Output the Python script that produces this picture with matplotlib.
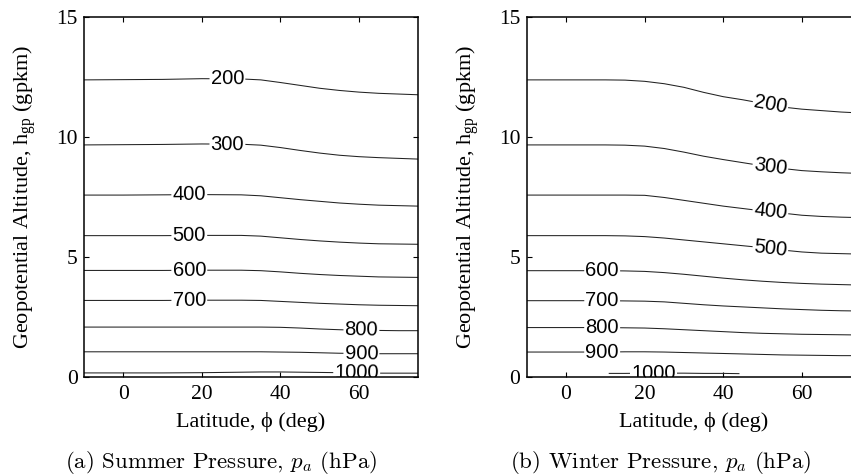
import numpy as np
import matplotlib
matplotlib.use("Agg")
import matplotlib.pyplot as plt

plt.rcParams["font.family"] = ["Liberation Serif", "DejaVu Serif"]
plt.rcParams["mathtext.fontset"] = "custom"
plt.rcParams["mathtext.rm"] = "Liberation Serif"
plt.rcParams["mathtext.it"] = "Liberation Serif:italic"

# Pressure levels (hPa) and their geopotential altitude (gpkm) vs latitude
levels = [200, 300, 400, 500, 600, 700, 800, 900, 1000]

summer_lat = [-10, 0, 10, 20, 30, 35, 40, 45, 50, 55, 60, 65, 70, 75]
summer_h = [
    [12.38, 12.39, 12.40, 12.43, 12.42, 12.38, 12.27, 12.15, 12.03, 11.94, 11.87, 11.82, 11.79, 11.76],
    [9.67, 9.68, 9.69, 9.71, 9.70, 9.66, 9.56, 9.44, 9.33, 9.24, 9.18, 9.14, 9.11, 9.08],
    [7.58, 7.58, 7.59, 7.60, 7.59, 7.55, 7.47, 7.39, 7.32, 7.25, 7.20, 7.16, 7.14, 7.12],
    [5.89, 5.89, 5.89, 5.90, 5.90, 5.87, 5.80, 5.73, 5.67, 5.62, 5.58, 5.55, 5.54, 5.53],
    [4.44, 4.44, 4.44, 4.45, 4.45, 4.43, 4.38, 4.32, 4.27, 4.23, 4.20, 4.17, 4.16, 4.15],
    [3.19, 3.19, 3.19, 3.20, 3.20, 3.19, 3.15, 3.11, 3.07, 3.04, 3.01, 2.99, 2.98, 2.97],
    [2.08, 2.08, 2.08, 2.08, 2.08, 2.08, 2.07, 2.04, 2.00, 1.97, 1.95, 1.94, 1.93, 1.93],
    [1.05, 1.05, 1.05, 1.05, 1.05, 1.05, 1.04, 1.03, 1.01, 0.99, 0.98, 0.97, 0.97, 0.97],
    [0.17, 0.17, 0.17, 0.18, 0.20, 0.21, 0.21, 0.20, 0.19, 0.18, 0.17, 0.16, 0.16, 0.16],
]
summer_label_lat = [26.5, 26.5, 16.8, 16.8, 16.8, 16.8, 60.6, 60.6, 59.4]

winter_lat = [-10, 0, 10, 15, 20, 25, 30, 35, 40, 45, 50, 55, 60, 65, 70, 75]
winter_h = [
    [12.38, 12.38, 12.38, 12.37, 12.32, 12.22, 12.07, 11.86, 11.68, 11.55, 11.40, 11.25, 11.16, 11.10, 11.04, 11.00],
    [9.67, 9.67, 9.67, 9.66, 9.62, 9.52, 9.37, 9.20, 9.06, 8.93, 8.80, 8.69, 8.60, 8.55, 8.51, 8.48],
    [7.58, 7.58, 7.58, 7.58, 7.57, 7.48, 7.36, 7.24, 7.12, 7.02, 6.92, 6.83, 6.74, 6.69, 6.66, 6.64],
    [5.89, 5.89, 5.89, 5.88, 5.85, 5.79, 5.71, 5.63, 5.55, 5.47, 5.39, 5.29, 5.21, 5.16, 5.14, 5.12],
    [4.43, 4.43, 4.43, 4.42, 4.40, 4.35, 4.28, 4.20, 4.12, 4.05, 3.99, 3.94, 3.90, 3.87, 3.85, 3.83],
    [3.18, 3.18, 3.18, 3.17, 3.16, 3.13, 3.07, 3.01, 2.96, 2.92, 2.88, 2.84, 2.81, 2.78, 2.76, 2.75],
    [2.06, 2.06, 2.06, 2.05, 2.04, 2.01, 1.97, 1.93, 1.89, 1.85, 1.82, 1.80, 1.78, 1.77, 1.76, 1.75],
    [1.04, 1.04, 1.04, 1.05, 1.05, 1.04, 1.02, 1.00, 0.98, 0.96, 0.94, 0.92, 0.91, 0.90, 0.89, 0.89],
]
# the 1000 hPa surface only rises above ground over part of the winter range
winter_lat_1000 = [11, 15, 20, 25, 30, 35, 40, 44]
winter_h_1000 = [0.15, 0.15, 0.16, 0.16, 0.16, 0.15, 0.15, 0.14]
winter_label_lat = [52, 52, 52, 52, 9.2, 9.2, 9.2, 9.2, 22.2]

xticks = [0, 20, 40, 60]
yticks = [0, 5, 10, 15]

W, H = 851, 475
fig = plt.figure(figsize=(W / 100, H / 100), dpi=100)


def px_axes(x0, x1, y0, y1):
    return fig.add_axes([x0 / W, 1 - y1 / H, (x1 - x0) / W, (y1 - y0) / H])


def draw_panel(ax, curves, label_lats, caption, caption_x):
    ax.set_xlim(-10, 75)
    ax.set_ylim(0, 15)
    ax.set_xticks(xticks)
    ax.set_yticks(yticks)
    ax.tick_params(direction="in", length=3.5, width=0.8, top=True, right=True,
                   labelsize=15.5)
    ax.tick_params(axis="x", pad=6)
    ax.tick_params(axis="y", pad=4.5)
    for s in ax.spines.values():
        s.set_linewidth(1.1)

    for (xs, ys, lev), llat in zip(curves, label_lats):
        ax.plot(xs, ys, color="#222222", lw=0.75, zorder=2)
        ly = float(np.interp(llat, xs, ys))
        # label angle follows the local slope of the line in screen space
        p0 = ax.transData.transform((llat - 2.0, np.interp(llat - 2.0, xs, ys)))
        p1 = ax.transData.transform((llat + 2.0, np.interp(llat + 2.0, xs, ys)))
        ang = np.degrees(np.arctan2(p1[1] - p0[1], p1[0] - p0[0]))
        ax.text(llat, ly, str(lev), family=["Liberation Sans", "DejaVu Sans"],
                fontsize=14.5, ha="center", va="center", rotation=ang,
                rotation_mode="anchor", zorder=2.2, clip_on=True,
                bbox=dict(boxstyle="square,pad=0.06", fc="white", ec="none"))

    ax.set_xlabel("Latitude, \u03d5 (deg)", fontsize=16)
    ax.xaxis.label.set_va("center")
    ax.xaxis.set_label_coords(0.5, -0.124)
    ax.set_ylabel(r"Geopotential Altitude, h$_{\mathrm{gp}}$ (gpkm)", fontsize=16)
    ax.yaxis.label.set_va("center")
    ax.yaxis.set_label_coords(-0.177, 0.5)

    fig.text(caption_x / W, 1 - 462 / H, caption, fontsize=16.5,
             family="cmr10", ha="center", va="center", math_fontfamily="cm")


ax1 = px_axes(84, 418, 17, 377)
ax2 = px_axes(526.7, 860.8, 17, 377)

curves_s = [(summer_lat, h, lev) for h, lev in zip(summer_h, levels)]
curves_w = [(winter_lat, h, lev) for h, lev in zip(winter_h, levels[:-1])]
curves_w.append((winter_lat_1000, winter_h_1000, levels[-1]))

draw_panel(ax1, curves_s, summer_label_lat,
           r"(a) Summer Pressure, $p_a$ (hPa)", 221)
draw_panel(ax2, curves_w, winter_label_lat,
           r"(b) Winter Pressure, $p_a$ (hPa)", 660.5)

fig.savefig("out.png", dpi=100)
